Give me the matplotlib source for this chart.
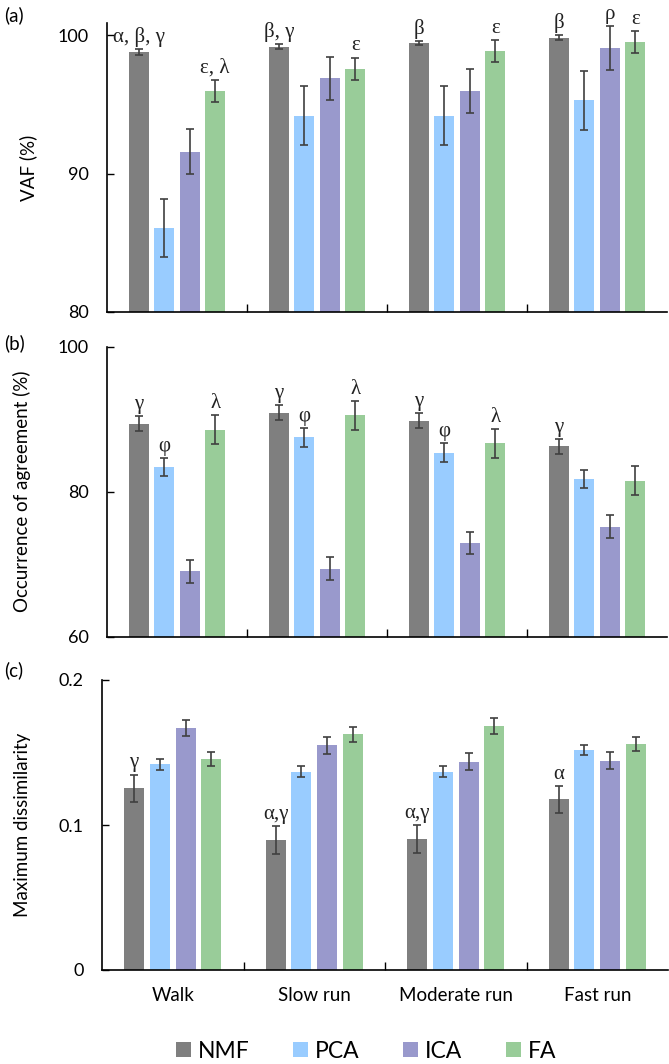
import matplotlib
matplotlib.use("Agg")
import matplotlib.pyplot as plt
from matplotlib.patches import Patch
import numpy as np

plt.rcParams['font.family'] = ['Lato', 'DejaVu Sans']

categories = ["Walk", "Slow run", "Moderate run", "Fast run"]
methods = ["NMF", "PCA", "ICA", "FA"]
colors = ["#7f7f7f", "#99ccff", "#9999cc", "#99cc99"]

# Panel (a) VAF (%)
vaf_mean = {
    "NMF": [98.8, 99.2, 99.45, 99.85],
    "PCA": [86.1, 94.2, 94.2, 95.3],
    "ICA": [91.6, 96.9, 96.0, 99.1],
    "FA":  [96.0, 97.6, 98.9, 99.5],
}
vaf_err = {
    "NMF": [0.2, 0.2, 0.15, 0.15],
    "PCA": [2.1, 2.15, 2.15, 2.15],
    "ICA": [1.6, 1.55, 1.6, 1.6],
    "FA":  [0.8, 0.8, 0.8, 0.8],
}
vaf_notes = {
    "NMF": ["α, β, γ", "β, γ", "β", "β"],
    "PCA": ["", "", "", ""],
    "ICA": ["", "", "", "ρ"],
    "FA":  ["ε, λ", "ε", "ε", "ε"],
}

# Panel (b) Occurrence of agreement (%)
occ_mean = {
    "NMF": [89.4, 90.9, 89.8, 86.25],
    "PCA": [83.4, 87.5, 85.4, 81.75],
    "ICA": [69.0, 69.4, 72.9, 75.2],
    "FA":  [88.55, 90.55, 86.7, 81.5],
}
occ_err = {
    "NMF": [1.05, 1.05, 1.05, 1.05],
    "PCA": [1.25, 1.3, 1.3, 1.3],
    "ICA": [1.55, 1.55, 1.5, 1.55],
    "FA":  [2.0, 2.0, 2.0, 2.0],
}
occ_notes = {
    "NMF": ["γ", "γ", "γ", "γ"],
    "PCA": ["φ", "φ", "φ", ""],
    "ICA": ["", "", "", ""],
    "FA":  ["λ", "λ", "λ", ""],
}

# Panel (c) Maximum dissimilarity
dis_mean = {
    "NMF": [0.1253, 0.0897, 0.0903, 0.1177],
    "PCA": [0.1418, 0.1368, 0.1368, 0.1517],
    "ICA": [0.1671, 0.1549, 0.1437, 0.1444],
    "FA":  [0.1455, 0.1625, 0.1683, 0.1556],
}
dis_err = {
    "NMF": [0.0095, 0.0097, 0.0097, 0.0092],
    "PCA": [0.004, 0.0037, 0.004, 0.0036],
    "ICA": [0.0055, 0.0059, 0.0057, 0.0059],
    "FA":  [0.005, 0.0052, 0.0052, 0.0048],
}
dis_notes = {
    "NMF": ["γ", "α,γ", "α,γ", "α"],
    "PCA": ["", "", "", ""],
    "ICA": ["", "", "", ""],
    "FA":  ["", "", "", ""],
}

W, H = 669, 1064
fig = plt.figure(figsize=(W / 100, H / 100), dpi=100)

def px_axes(x0, x1, ytop, ybot):
    return fig.add_axes([x0 / W, (H - ybot) / H, (x1 - x0) / W, (ybot - ytop) / H])

panels = [
    dict(rect=(107, 667, 23, 312), mean=vaf_mean, err=vaf_err, notes=vaf_notes,
         ylim=(80, 100.9), yticks=[80, 90, 100], yticklabels=["80", "90", "100"],
         ylabel="VAF (%)", labx=37, tag="(a)", tagy=15),
    dict(rect=(107, 667, 346.7, 636.7), mean=occ_mean, err=occ_err, notes=occ_notes,
         ylim=(60, 100), yticks=[60, 80, 100], yticklabels=["60", "80", "100"],
         ylabel="Occurrence of agreement (%)", labx=31, tag="(b)", tagy=343),
    dict(rect=(102, 668, 680, 970), mean=dis_mean, err=dis_err, notes=dis_notes,
         ylim=(0, 0.2), yticks=[0, 0.1, 0.2], yticklabels=["0", "0.1", "0.2"],
         ylabel="Maximum dissimilarity", labx=31, tag="(c)", tagy=670),
]

x = np.arange(len(categories))
step = 0.182
bw = 0.143
offsets = (np.arange(len(methods)) - 1.5) * step

for i, p in enumerate(panels):
    x0, x1, yt, yb = p["rect"]
    ax = px_axes(x0, x1, yt, yb)
    for j, m in enumerate(methods):
        xs = x + offsets[j]
        ax.bar(xs, p["mean"][m], width=bw, color=colors[j], zorder=2)
        ax.errorbar(xs, p["mean"][m], yerr=p["err"][m], fmt="none",
                    ecolor="#404040", elinewidth=1.2, capsize=2.6, capthick=1.2, zorder=3)
        for k, note in enumerate(p["notes"][m]):
            if note:
                ax.annotate(note, (xs[k], p["mean"][m][k] + p["err"][m][k]),
                            xytext=(0, 1.5), textcoords="offset points",
                            ha="center", va="bottom", fontsize=15,
                            family=["Liberation Serif", "DejaVu Serif"], color="#222222")
    ax.set_xlim(-0.5, 3.5)
    ax.set_ylim(*p["ylim"])
    ax.set_yticks(p["yticks"])
    ax.set_yticklabels(p["yticklabels"], fontsize=13)
    ax.tick_params(axis="y", direction="in", length=5, width=1, pad=13)
    ax.set_xticks([0.5, 1.5, 2.5])
    ax.set_xticklabels([])
    ax.tick_params(axis="x", which="major", direction="in", length=6, width=1)
    ax.set_xticks(x, minor=True)
    if i == 2:
        ax.set_xticklabels(categories, minor=True, fontsize=13.5)
    ax.tick_params(axis="x", which="minor", length=0, pad=12)
    for s in ["top", "right"]:
        ax.spines[s].set_visible(False)
    for s in ["left", "bottom"]:
        ax.spines[s].set_linewidth(1.2)
    ax.set_ylabel(p["ylabel"], fontsize=13.5)
    ax.yaxis.set_label_coords((p["labx"] - x0) / (x1 - x0), 0.5)
    fig.text(4 / W, 1 - p["tagy"] / H, p["tag"], fontsize=13.5, ha="left", va="center")

handles = [Patch(facecolor=c, edgecolor="none", label=m) for c, m in zip(colors, methods)]
fig.legend(handles=handles, loc="center", bbox_to_anchor=(366 / W, 1 - 1051 / H),
           ncol=4, frameon=False, fontsize=16.5, handlelength=0.65, handleheight=0.65,
           handletextpad=0.3, columnspacing=1.9)

fig.savefig("out.png", dpi=100)
